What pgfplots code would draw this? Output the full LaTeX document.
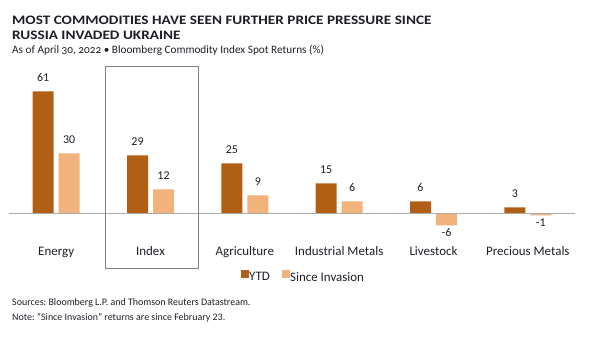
\documentclass[border=0pt]{standalone}
\usepackage{fontspec}
\setmainfont{Carlito}
\newfontfamily\titlefont{Carlito}[FakeStretch=1.175]
\usepackage{pgfplots}
\pgfplotsset{compat=1.18}
\definecolor{ytd}{HTML}{B25F16}
\definecolor{inv}{HTML}{F1B27C}
\definecolor{txt}{HTML}{1E1E28}
\definecolor{zero}{HTML}{ABABAB}
\definecolor{boxgray}{HTML}{808080}
\frenchspacing
\begin{document}
\begin{tikzpicture}
\path[use as bounding box] (0,0) rectangle (593bp,-339bp);
\node[anchor=base west, inner sep=0, text=txt, font=\titlefont\bfseries\fontsize{13}{15}\selectfont] at (12bp,-24bp) {MOST COMMODITIES HAVE SEEN FURTHER PRICE PRESSURE SINCE};
\node[anchor=base west, inner sep=0, text=txt, font=\titlefont\bfseries\fontsize{13}{15}\selectfont] at (12bp,-39bp) {RUSSIA INVADED UKRAINE};
\node[anchor=base west, inner sep=0, text=txt, font=\fontsize{11.3}{13}\selectfont\addfontfeatures{Numbers=OldStyle}] at (12bp,-53bp) {As of April 30, 2022 • Bloomberg Commodity Index Spot Returns (\%)};
\begin{axis}[
  at={(9bp,-233.3bp)}, anchor=south west,
  scale only axis, width=566bp, height=160bp,
  xmin=-0.5, xmax=5.5, ymin=-10, ymax=70,
  axis line style={draw=none}, major tick length=0,
  ytick=\empty, xtick={0,...,5},
  xticklabels={Energy,Index,Agriculture,Industrial Metals,Livestock,Precious Metals},
  xticklabel style={anchor=base, yshift=-21.7bp, font=\fontsize{13}{15}\selectfont, text=txt},
  ybar=5bp, bar width=21bp, clip=false,
  nodes near coords,
  visualization depends on={rawy \as \rawy},
  every node near coord/.append style={font=\fontsize{12}{14}\selectfont, text=txt, /pgf/number format/assume math mode=true, yshift={ifthenelse(\rawy>0,6,0)}},
  legend style={at={(axis description cs:0.4094,-0.271)}, anchor=west, draw=none, fill=none, inner sep=0, legend columns=2, font=\fontsize{13}{15}\selectfont, text=txt, /tikz/every odd column/.append style={column sep=-1.2bp}, /tikz/every even column/.append style={column sep=11bp}, nodes={inner sep=1bp}},
  sq/.style={legend image code/.code={\fill[##1] (0bp,-0.5bp) rectangle (8.5bp,7.7bp);}},
]
\addplot[fill=ytd, draw=none, sq] coordinates {(0,61) (1,29) (2,25) (3,15) (4,6) (5,3)};
\addplot[fill=inv, draw=none, sq] coordinates {(0,30) (1,12) (2,9) (3,6) (4,-6) (5,-1)};
\draw[color=zero, line width=1.2bp] (axis cs:-0.5,0) -- (axis cs:5.5,0);
\legend{YTD, Since Invasion}
\end{axis}
\draw[boxgray, line width=0.9bp] (105.3bp,-66bp) rectangle (198.3bp,-268.3bp);
\node[anchor=base west, inner sep=0, text=txt, font=\fontsize{10}{12}\selectfont] at (12bp,-305bp) {Sources: Bloomberg L.P. and Thomson Reuters Datastream.};
\node[anchor=base west, inner sep=0, text=txt, font=\fontsize{10}{12}\selectfont] at (12bp,-320bp) {Note: "Since Invasion" returns are since February 23.};
\end{tikzpicture}
\end{document}
